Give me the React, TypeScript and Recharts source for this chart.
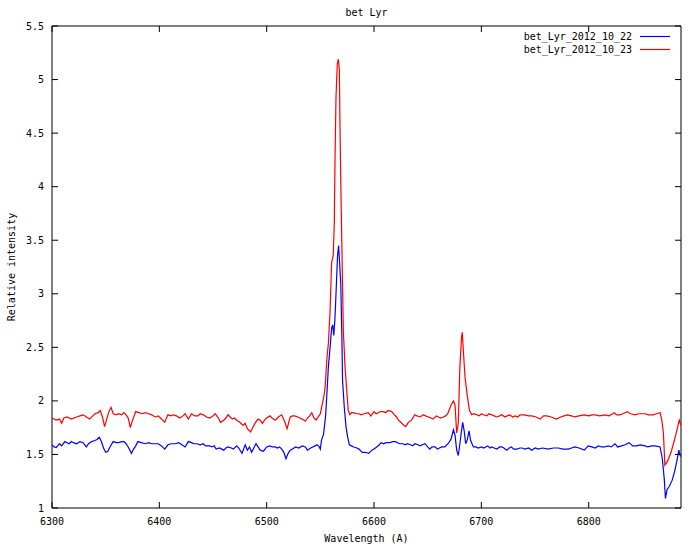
import { LineChart, Line, XAxis, YAxis, ReferenceArea } from "recharts";

// bet Lyr spectra (wavelength in A, relative intensity)
const redWave = [
  6300, 6304, 6307, 6309, 6311, 6314, 6318, 6323, 6326, 6329, 6332, 6335, 6338, 6340, 6343, 6345,
  6347, 6349, 6351, 6353, 6355, 6357, 6360, 6362, 6365, 6367, 6369, 6371, 6373, 6375, 6378, 6381,
  6384, 6387, 6390, 6393, 6396, 6399, 6401, 6403, 6405, 6408, 6411, 6413, 6416, 6419, 6422, 6424,
  6427, 6430, 6433, 6436, 6438, 6441, 6444, 6447, 6450, 6452, 6455, 6457, 6460, 6462, 6464, 6466,
  6468, 6470, 6472, 6475, 6478, 6480, 6482, 6485, 6487, 6489, 6492, 6494, 6496, 6498, 6500, 6503,
  6505, 6508, 6511, 6514, 6517, 6519, 6522, 6524, 6526, 6529, 6531, 6533, 6536, 6538, 6540, 6542,
  6544, 6546, 6548, 6550, 6552, 6553.4, 6554.4, 6556, 6557.5, 6559, 6560.5, 6562, 6563, 6563.7,
  6564.6, 6565.8, 6566.8, 6567.7, 6568.3, 6569.3, 6570.5, 6571.4, 6573, 6574.6, 6576, 6577.6, 6579,
  6581, 6583, 6586, 6588, 6591, 6594.7, 6597, 6600, 6602, 6604, 6606, 6608.6, 6611, 6613, 6616.5,
  6619, 6621, 6622.7, 6624, 6626, 6628, 6629.5, 6632, 6635, 6638, 6640, 6643, 6646, 6648, 6650.6,
  6653, 6655, 6658, 6660, 6662, 6664.6, 6666.7, 6668.7, 6671.7, 6674, 6675.5, 6677, 6678.5, 6680,
  6681.6, 6682.3, 6683.2, 6684.8, 6687, 6689, 6691, 6693, 6696, 6698, 6700, 6702, 6705, 6707,
  6709.7, 6712, 6714.4, 6717, 6719, 6722, 6724, 6726.7, 6729, 6731.4, 6734, 6736, 6740, 6744, 6747,
  6751, 6754.7, 6758, 6761, 6765, 6770, 6774, 6777, 6780, 6784, 6787, 6791, 6796, 6800, 6803, 6806,
  6810, 6815, 6819, 6824, 6826, 6829, 6832, 6836, 6839, 6843, 6847, 6852.5, 6856, 6860, 6863,
  6866.5, 6868, 6869.6, 6871, 6873.6, 6876.7, 6879.8, 6882, 6884.4, 6886,
];
const redFlux = [
  1.84, 1.82, 1.83, 1.79, 1.84, 1.85, 1.83, 1.85, 1.86, 1.87, 1.85, 1.83, 1.86, 1.88, 1.89, 1.91,
  1.85, 1.76, 1.83, 1.9, 1.94, 1.88, 1.87, 1.88, 1.87, 1.89, 1.87, 1.84, 1.75, 1.82, 1.9, 1.89,
  1.88, 1.89, 1.88, 1.87, 1.85, 1.86, 1.84, 1.82, 1.8, 1.87, 1.86, 1.87, 1.86, 1.84, 1.86, 1.88,
  1.83, 1.88, 1.86, 1.86, 1.88, 1.87, 1.85, 1.84, 1.86, 1.88, 1.84, 1.8, 1.82, 1.84, 1.87, 1.85,
  1.83, 1.84, 1.82, 1.8, 1.77, 1.79, 1.74, 1.71, 1.75, 1.79, 1.83, 1.82, 1.79, 1.82, 1.84, 1.86,
  1.84, 1.82, 1.85, 1.87, 1.8, 1.74, 1.85, 1.86, 1.86, 1.85, 1.84, 1.83, 1.81, 1.84, 1.86, 1.89,
  1.84, 1.82, 1.85, 1.88, 1.98, 2.05, 2.12, 2.38, 2.54, 2.82, 3.29, 3.36, 3.66, 4.28,
  4.84, 5.15, 5.19, 5.09, 4.56, 3.88, 3.19, 2.66, 2.32, 2.1, 1.91, 1.87, 1.89,
  1.89, 1.88, 1.88, 1.87, 1.88, 1.89, 1.86, 1.9, 1.88, 1.89, 1.9, 1.9, 1.89, 1.91, 1.9,
  1.87, 1.85, 1.82, 1.81, 1.79, 1.77, 1.76, 1.8, 1.82, 1.87, 1.86, 1.85, 1.87, 1.86, 1.85,
  1.84, 1.83, 1.86, 1.85, 1.84, 1.85, 1.86, 1.88, 1.96, 2.0, 1.96, 1.7, 1.79, 2.32,
  2.6, 2.64, 2.47, 2.22, 2.04, 1.91, 1.87, 1.88, 1.87, 1.86, 1.88, 1.87, 1.86, 1.88,
  1.87, 1.86, 1.85, 1.86, 1.87, 1.85, 1.86, 1.87, 1.85, 1.86, 1.85, 1.87, 1.87, 1.86, 1.86,
  1.85, 1.83, 1.86, 1.86, 1.85, 1.83, 1.85, 1.86, 1.87, 1.86, 1.85, 1.86, 1.87, 1.86, 1.87, 1.87,
  1.86, 1.87, 1.86, 1.89, 1.87, 1.87, 1.88, 1.9, 1.88, 1.87, 1.88, 1.88, 1.87, 1.87, 1.88,
  1.89, 1.83, 1.7, 1.4, 1.44, 1.52, 1.63, 1.72, 1.82, 1.77,
];

const blueWave = [
  6300, 6302, 6304, 6307, 6309, 6312, 6314, 6316, 6318, 6320, 6323, 6326, 6329, 6332, 6334, 6337,
  6340, 6342, 6344, 6346, 6348, 6350, 6352, 6354, 6357, 6360, 6362, 6365, 6367, 6369, 6371, 6374,
  6376, 6378, 6380, 6383, 6387, 6390, 6393, 6396, 6399, 6402, 6405, 6408, 6411, 6415, 6418, 6421,
  6424, 6427, 6430, 6432, 6435, 6438, 6441, 6443, 6447, 6449, 6451, 6453, 6456, 6460, 6462, 6464,
  6467, 6469, 6472, 6474, 6477, 6480, 6482, 6484, 6486, 6488, 6490, 6492, 6494, 6497, 6500, 6503,
  6505, 6508, 6510, 6512, 6514, 6516, 6518, 6520, 6522, 6524, 6527, 6530, 6533, 6536, 6538, 6541,
  6543, 6545, 6547, 6549, 6550, 6551, 6553, 6555, 6556, 6557.5, 6559, 6560.5, 6561.5, 6562.5,
  6563.5, 6564.6, 6566, 6567, 6568, 6569, 6570, 6570.7, 6572.3, 6574, 6575.5, 6577, 6579, 6581,
  6584, 6586, 6589, 6592, 6595, 6598, 6600, 6602.5, 6605, 6606.5, 6609, 6611, 6613, 6615, 6617,
  6620, 6622, 6624, 6627, 6629, 6631, 6634, 6636, 6638, 6641, 6643, 6645, 6647.5, 6650, 6652, 6654,
  6657, 6659, 6661, 6663, 6666, 6669, 6671.7, 6674, 6675.5, 6677, 6678.5, 6680, 6681.5, 6682.6,
  6684, 6685.4, 6687, 6688.5, 6690, 6692.6, 6695, 6697, 6700, 6702, 6704, 6706, 6708, 6709.7,
  6712, 6714.4, 6717, 6719, 6721, 6723.6, 6726, 6728, 6730, 6733, 6736, 6738, 6740.7, 6744, 6747,
  6750, 6753, 6757, 6762, 6767, 6771.7, 6776, 6781, 6784, 6787, 6791, 6796, 6799.5, 6803, 6806,
  6809, 6812, 6815, 6818, 6821, 6824.5, 6827, 6830.7, 6834, 6837.6, 6841, 6844.7, 6848, 6852.5,
  6855, 6858.7, 6862, 6866.5, 6868.6, 6870.5, 6871.5, 6873, 6875, 6877.8, 6880, 6882, 6884, 6885.5,
];
const blueFlux = [
  1.59, 1.57, 1.565, 1.6, 1.58, 1.62, 1.61, 1.6, 1.62, 1.61, 1.6, 1.62, 1.61, 1.57, 1.6, 1.62,
  1.63, 1.64, 1.66, 1.62, 1.56, 1.52, 1.53, 1.57, 1.62, 1.61, 1.61, 1.62, 1.62, 1.6, 1.57, 1.51,
  1.55, 1.58, 1.62, 1.61, 1.6, 1.61, 1.6, 1.6, 1.6, 1.58, 1.55, 1.59, 1.6, 1.6, 1.61, 1.59,
  1.57, 1.62, 1.61, 1.6, 1.6, 1.59, 1.6, 1.58, 1.58, 1.57, 1.58, 1.55, 1.56, 1.54, 1.56, 1.57,
  1.56, 1.55, 1.58, 1.56, 1.51, 1.59, 1.54, 1.57, 1.52, 1.56, 1.6, 1.57, 1.54, 1.53, 1.57, 1.58,
  1.57, 1.57, 1.56, 1.57, 1.55, 1.52, 1.46, 1.51, 1.54, 1.55, 1.57, 1.56, 1.58, 1.57, 1.54, 1.56,
  1.57, 1.58, 1.59, 1.57, 1.55, 1.63, 1.69, 1.87, 2.05, 2.32, 2.49, 2.68, 2.71, 2.61,
  2.75, 3.0, 3.35, 3.45, 3.28, 3.1, 2.63, 2.19, 1.94, 1.75, 1.66, 1.59, 1.58, 1.57,
  1.56, 1.55, 1.52, 1.52, 1.51, 1.54, 1.55, 1.57, 1.59, 1.61, 1.6, 1.61, 1.61, 1.61, 1.62,
  1.62, 1.61, 1.6, 1.6, 1.59, 1.6, 1.59, 1.58, 1.6, 1.59, 1.58, 1.59, 1.6, 1.57, 1.55, 1.57,
  1.57, 1.55, 1.56, 1.57, 1.57, 1.6, 1.64, 1.73, 1.68, 1.54, 1.49, 1.6, 1.72, 1.8,
  1.72, 1.6, 1.64, 1.72, 1.63, 1.57, 1.57, 1.56, 1.57, 1.56, 1.57, 1.58, 1.56, 1.57,
  1.56, 1.55, 1.57, 1.57, 1.56, 1.54, 1.56, 1.57, 1.55, 1.55, 1.56, 1.56, 1.55, 1.56, 1.54,
  1.56, 1.55, 1.56, 1.55, 1.56, 1.56, 1.55, 1.55, 1.56, 1.57, 1.56, 1.54, 1.58, 1.57, 1.56,
  1.58, 1.57, 1.57, 1.58, 1.57, 1.6, 1.57, 1.58, 1.59, 1.61, 1.58, 1.58, 1.59, 1.58,
  1.57, 1.58, 1.58, 1.57, 1.46, 1.26, 1.09, 1.17, 1.2, 1.26, 1.34, 1.43, 1.54, 1.48,
];

const seriesNames = ["bet_Lyr_2012_10_22", "bet_Lyr_2012_10_23"];
const seriesColors = ["#0000ff", "#ff0000"];
const xTicks = [6300, 6400, 6500, 6600, 6700, 6800];
const yTicks = [1, 1.5, 2, 2.5, 3, 3.5, 4, 4.5, 5, 5.5];
const xDomain = [6300, 6886];
const yDomain = [1, 5.5];

const W = 700;
const H = 550;
const PLOT_TOP = 26;
const PLOT_RIGHT = 681;
const FONT = '"DejaVu Sans Mono", monospace';

const blueData = blueWave.map((w, i) => ({ w, v: blueFlux[i] }));
const redData = redWave.map((w, i) => ({ w, v: redFlux[i] }));

// gnuplot-style ticks: pointing inward, mirrored on the opposite border
function XTick({ x, y, payload }: any) {
  return (
    <g>
      <line x1={x} y1={y} x2={x} y2={y - 6} stroke="#000" />
      <line x1={x} y1={PLOT_TOP} x2={x} y2={PLOT_TOP + 6} stroke="#000" />
      <text x={x} y={y + 17} textAnchor="middle" fontSize={10} fontFamily={FONT} fill="#000">
        {payload.value}
      </text>
    </g>
  );
}

function YTick({ x, y, payload }: any) {
  return (
    <g>
      <line x1={x} y1={y} x2={x + 6} y2={y} stroke="#000" />
      <line x1={PLOT_RIGHT - 6} y1={y} x2={PLOT_RIGHT} y2={y} stroke="#000" />
      <text x={x - 8} y={y + 3.5} textAnchor="end" fontSize={10} fontFamily={FONT} fill="#000">
        {payload.value}
      </text>
    </g>
  );
}

const textStyle = { position: "absolute" as const, fontFamily: FONT, fontSize: 10, color: "#000", whiteSpace: "nowrap" as const };

export default function App() {
  return (
    <div style={{ position: "absolute", left: 0, top: 0, width: W, height: H, background: "#fff" }}>
      <LineChart width={W} height={H} data={redData} margin={{ top: PLOT_TOP, right: W - PLOT_RIGHT, left: 10, bottom: 0 }}>
        <XAxis
          dataKey="w" type="number" domain={xDomain} ticks={xTicks} allowDataOverflow interval={0}
          height={42} tickSize={0} tickMargin={0} axisLine={false} tick={<XTick />}
        />
        <YAxis
          type="number" domain={yDomain} ticks={yTicks} allowDataOverflow interval={0}
          width={42} tickSize={0} tickMargin={0} axisLine={false} tick={<YTick />}
        />
        <ReferenceArea x1={xDomain[0]} x2={xDomain[1]} y1={yDomain[0]} y2={yDomain[1]} fill="none" stroke="#000" strokeWidth={1} />
        <Line data={blueData} dataKey="v" name={seriesNames[0]} type="linear" stroke={seriesColors[0]} strokeWidth={1.2} dot={false} isAnimationActive={false} />
        <Line data={redData} dataKey="v" name={seriesNames[1]} type="linear" stroke={seriesColors[1]} strokeWidth={1.2} dot={false} isAnimationActive={false} />
      </LineChart>

      <div style={{ ...textStyle, left: 0, width: 733, top: 7, textAlign: "center" }}>bet Lyr</div>
      <div style={{ ...textStyle, left: 0, width: 733, top: 533, textAlign: "center" }}>Wavelength (A)</div>
      <div style={{ ...textStyle, left: 11, top: 267, transform: "translate(-50%, -50%) rotate(-90deg)" }}>Relative intensity</div>

      <div style={{ position: "absolute", right: 30, top: 30 }}>
        {seriesNames.map((n, i) => (
          <div key={n} style={{ display: "flex", alignItems: "center", justifyContent: "flex-end", height: 13 }}>
            <span style={{ fontFamily: FONT, fontSize: 10, color: "#000" }}>{n}</span>
            <svg width={30} height={3} style={{ marginLeft: 8 }}>
              <line x1={0} y1={1.5} x2={30} y2={1.5} stroke={seriesColors[i]} strokeWidth={1.2} />
            </svg>
          </div>
        ))}
      </div>
    </div>
  );
}
